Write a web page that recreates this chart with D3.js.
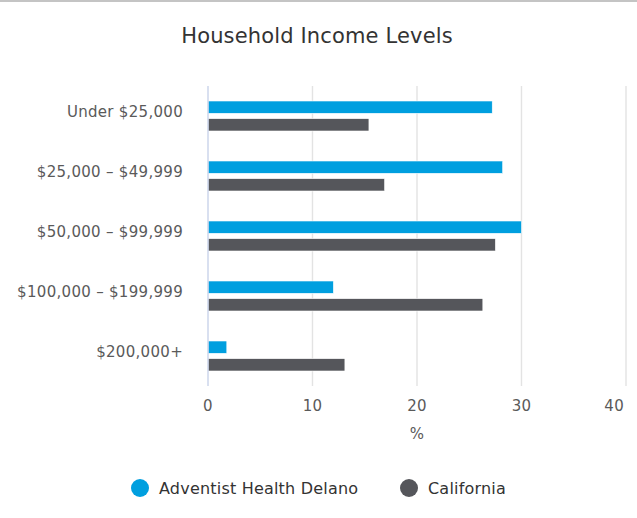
<!DOCTYPE html>
<html>
<head>
<meta charset="utf-8">
<script src="https://cdn.jsdelivr.net/npm/d3@7"></script>
<style>
  body { margin: 0; background: #fff; }
  svg { display: block; }
</style>
</head>
<body>
<div class="bar-chart"></div>
<script>
var categories = ['Under $25,000', '$25,000 – $49,999', '$50,000 – $99,999', '$100,000 – $199,999', '$200,000+'];
var seriesNames = ['Adventist Health Delano', 'California'];
var delanoValues = [27.2, 28.2, 30.0, 12.0, 1.8];
var californiaValues = [15.4, 16.9, 27.5, 26.3, 13.1];
var xTicks = [0, 10, 20, 30, 40];

var blue = '#009fdf',
	darkGray = '#55565b',
	labelColor = '#5a5a5a',
	titleColor = '#333',
	gridColor = '#e3e3e3',
	axisColor = '#ccd6eb',
	fontFamily = '"DejaVu Sans", sans-serif';

var width = 637, height = 518;
var plot = {left: 208, right: 626, top: 86, bottom: 386};

var svg = d3.select('.bar-chart').append('svg')
	.attr('width', width)
	.attr('height', height)
	.attr('font-family', fontFamily);

// top border of the card
svg.append('rect')
	.attr('x', 0).attr('y', 0)
	.attr('width', width).attr('height', 2)
	.attr('fill', '#c4c4c4');

svg.append('text')
	.attr('x', 317)
	.attr('y', 43)
	.attr('text-anchor', 'middle')
	.attr('font-size', '21px')
	.attr('letter-spacing', '0.15px')
	.attr('fill', titleColor)
	.text('Household Income Levels');

var x = d3.scaleLinear().domain([0, 40]).range([plot.left, plot.right]);
var y = d3.scaleBand().domain(categories).range([plot.top, plot.bottom])
	.paddingInner(0.5).paddingOuter(0.25);
var ySeries = d3.scaleBand().domain(seriesNames).range([0, y.bandwidth()])
	.paddingInner(0.3);
var color = d3.scaleOrdinal().domain(seriesNames).range([blue, darkGray]);

// gridlines
svg.append('g')
	.selectAll('line')
	.data(xTicks.slice(1))
	.join('line')
	.attr('x1', d => x(d)).attr('x2', d => x(d))
	.attr('y1', plot.top).attr('y2', plot.bottom)
	.attr('stroke', gridColor)
	.attr('stroke-width', 1.4);

// bars
var rows = categories.map(function(c, i) {
	return {category: c, values: [
		{name: seriesNames[0], value: delanoValues[i]},
		{name: seriesNames[1], value: californiaValues[i]}
	]};
});
var groups = svg.append('g')
	.selectAll('g')
	.data(rows)
	.join('g')
	.attr('transform', d => 'translate(0,' + y(d.category) + ')');
groups.selectAll('rect')
	.data(d => d.values)
	.join('rect')
	.attr('x', x(0))
	.attr('y', d => ySeries(d.name))
	.attr('width', d => x(d.value) - x(0))
	.attr('height', ySeries.bandwidth())
	.attr('fill', d => color(d.name))
	.attr('stroke', '#fff')
	.attr('stroke-width', 0.6);

// left axis line
svg.append('line')
	.attr('x1', x(0)).attr('x2', x(0))
	.attr('y1', plot.top).attr('y2', plot.bottom)
	.attr('stroke', axisColor)
	.attr('stroke-width', 1.5);

// category labels
svg.append('g')
	.selectAll('text')
	.data(categories)
	.join('text')
	.attr('x', 183)
	.attr('y', d => y(d) + 11 + 5)
	.attr('text-anchor', 'end')
	.attr('font-size', '15px')
	.attr('letter-spacing', '0.3px')
	.attr('fill', labelColor)
	.text(d => d);

// x tick labels (last one kept inside the chart)
var lastTick = xTicks[xTicks.length - 1];
svg.append('g')
	.selectAll('text')
	.data(xTicks)
	.join('text')
	.attr('x', d => d === lastTick ? x(d) - 2 : x(d))
	.attr('y', 411)
	.attr('text-anchor', d => d === lastTick ? 'end' : 'middle')
	.attr('font-size', '15px')
	.attr('letter-spacing', '0.3px')
	.attr('fill', labelColor)
	.text(d => d);

svg.append('text')
	.attr('x', (plot.left + plot.right) / 2)
	.attr('y', 439)
	.attr('text-anchor', 'middle')
	.attr('font-size', '15px')
	.attr('fill', labelColor)
	.text('%');

// legend
var legendX = [140, 409];
var legend = svg.append('g')
	.selectAll('g')
	.data(seriesNames)
	.join('g')
	.attr('transform', (d, i) => 'translate(' + legendX[i] + ',488)');
legend.append('circle')
	.attr('r', 9)
	.attr('fill', d => color(d));
legend.append('text')
	.attr('x', 19)
	.attr('y', 6)
	.attr('font-size', '16px')
	.attr('letter-spacing', '0.2px')
	.attr('fill', titleColor)
	.text(d => d);
</script>
</body>
</html>
